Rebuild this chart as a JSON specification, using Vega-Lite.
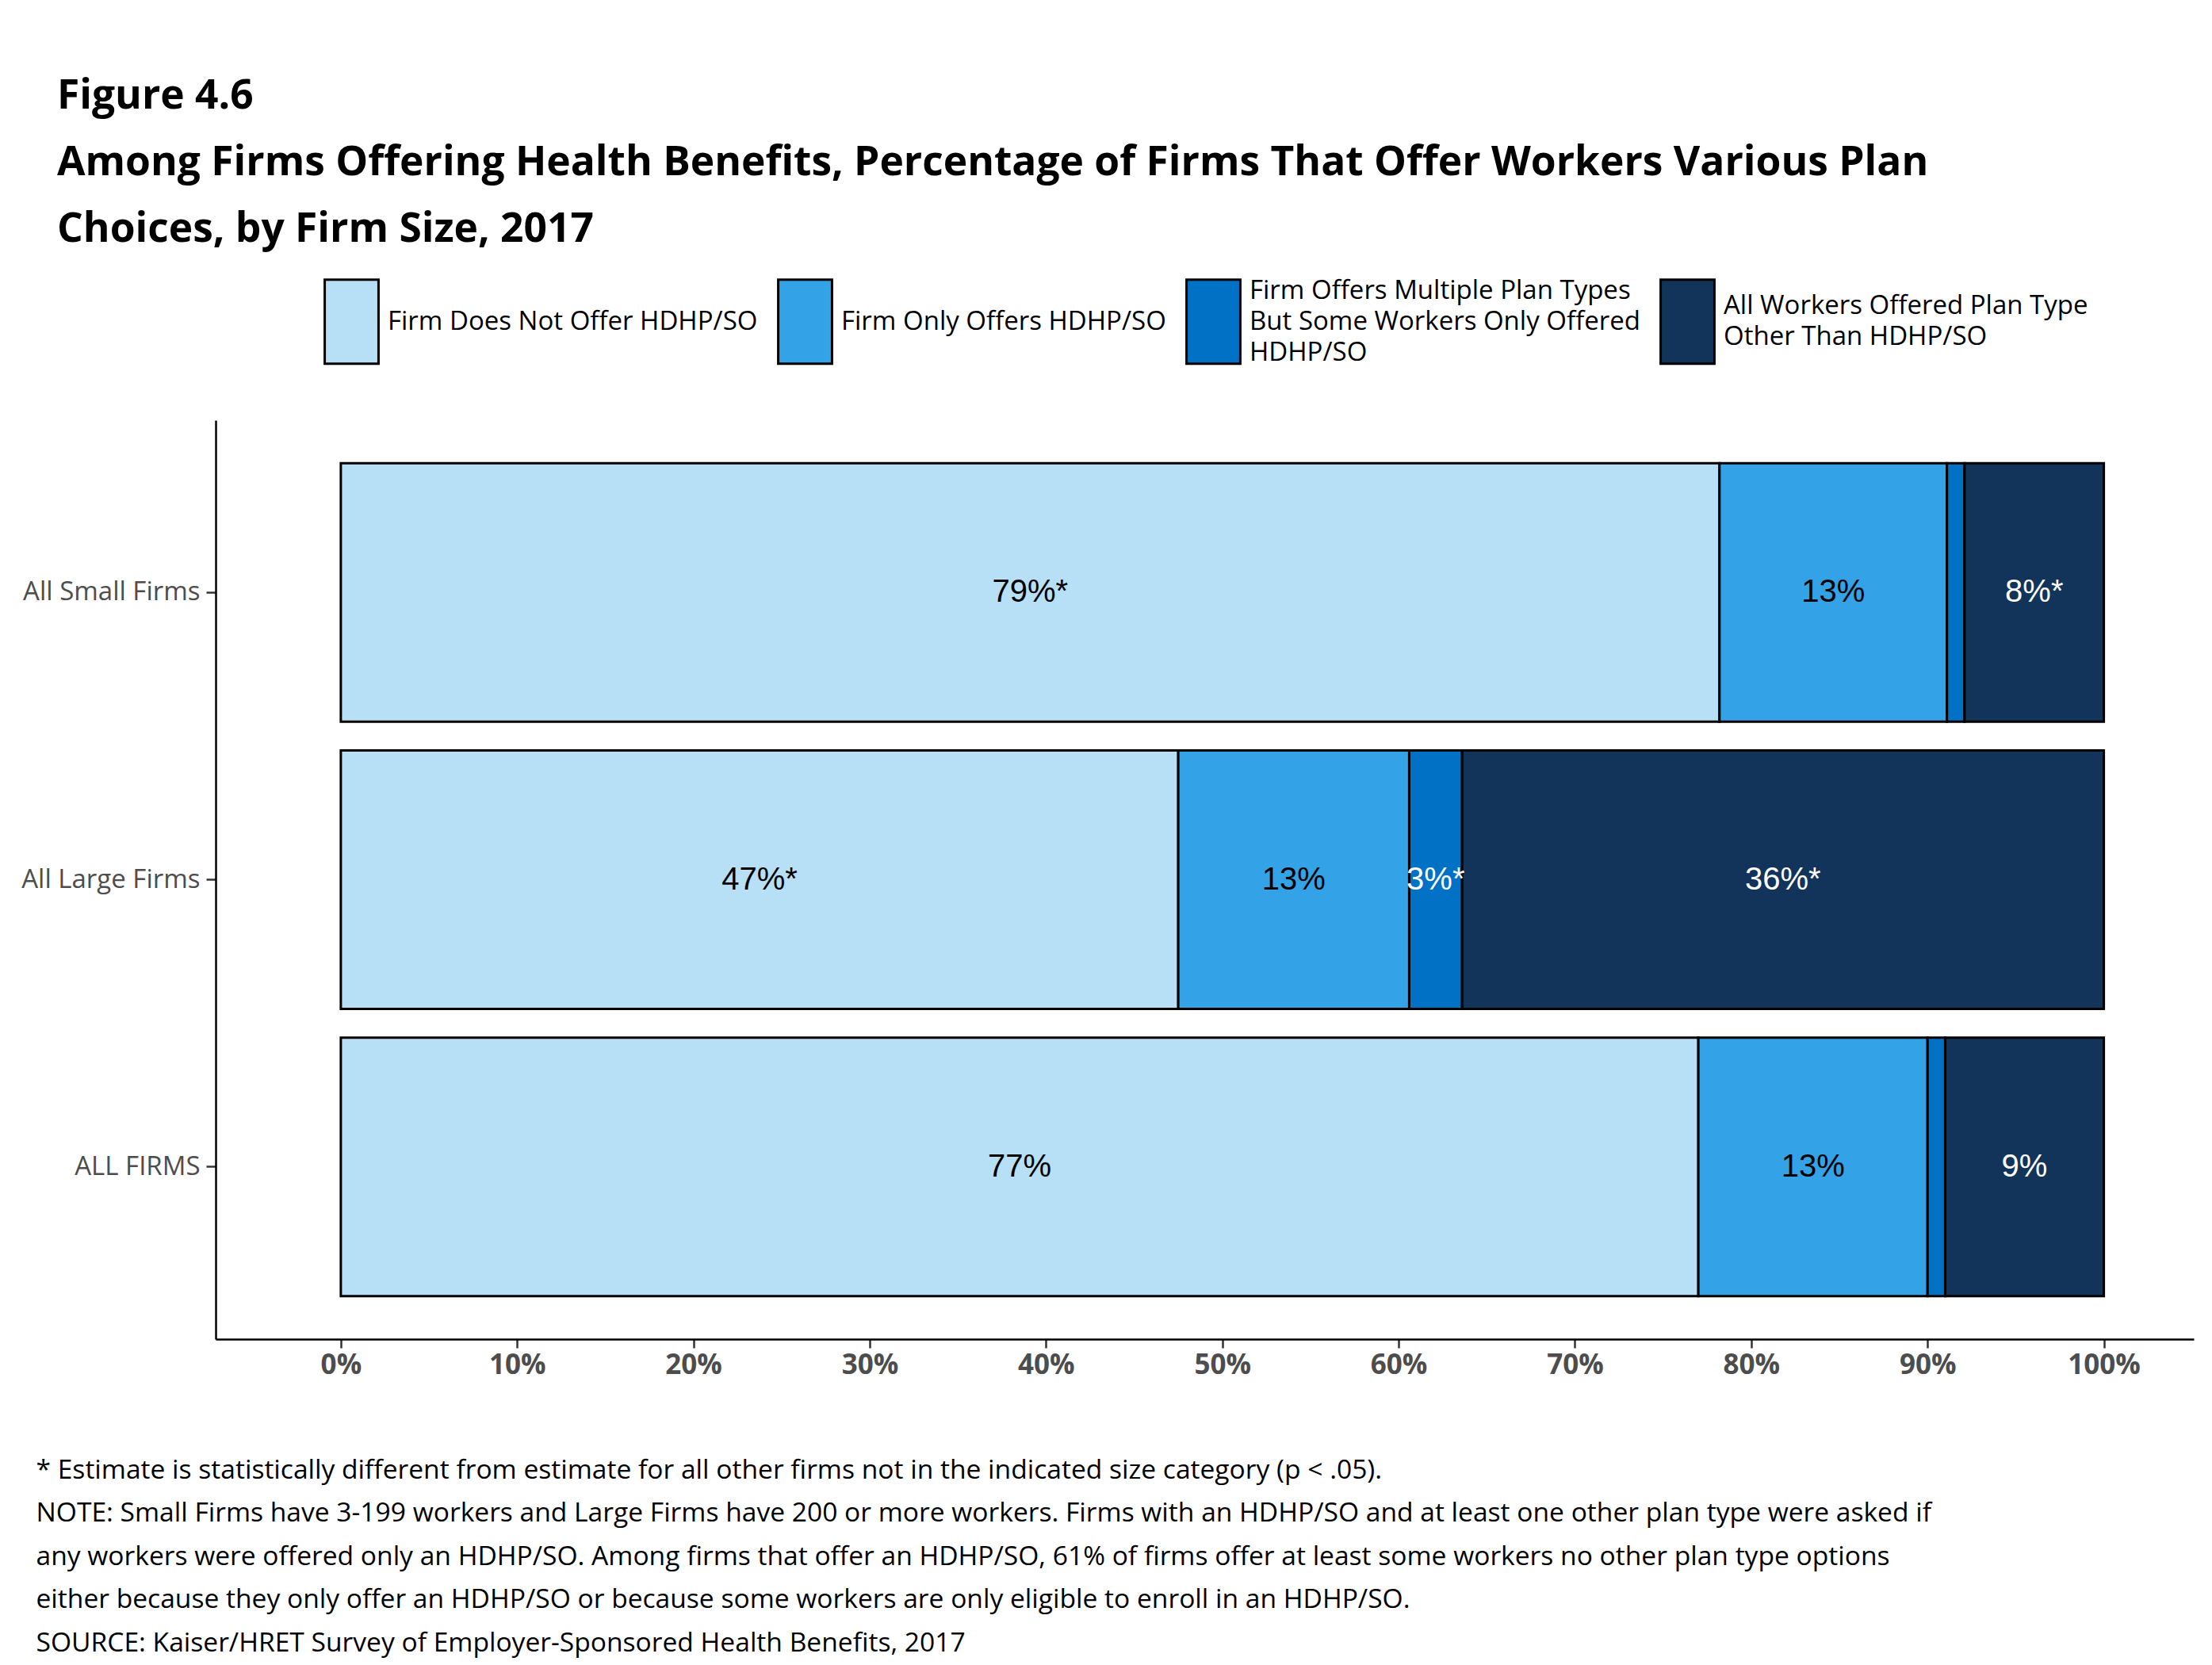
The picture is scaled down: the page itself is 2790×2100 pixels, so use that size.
{
  "$schema": "https://vega.github.io/schema/vega-lite/v6.json",
  "width": 2495,
  "height": 1159,
  "autosize": {"type": "none"},
  "padding": {"left": 272, "top": 530, "right": 23, "bottom": 411},
  "background": "white",
  "config": {"view": {"stroke": null}, "font": "Open Sans"},
  "title": {
    "text": ["Figure 4.6", "Among Firms Offering Health Benefits, Percentage of Firms That Offer Workers Various Plan", "Choices, by Firm Size, 2017"],
    "anchor": "start",
    "frame": "group",
    "orient": "top",
    "dx": -200,
    "dy": 4,
    "offset": 40,
    "font": "Open Sans",
    "fontSize": 51.5,
    "fontWeight": "bold",
    "color": "black",
    "lineHeight": 84
  },
  "data": {
    "values": [
      {"size": "All Small Firms", "plan": "Firm Does Not Offer HDHP/SO", "ord": 1, "pct": 78.2, "label": "79%*"},
      {"size": "All Small Firms", "plan": "Firm Only Offers HDHP/SO", "ord": 2, "pct": 12.9, "label": "13%"},
      {"size": "All Small Firms", "plan": "Firm Offers Multiple Plan Types But Some Workers Only Offered HDHP/SO", "ord": 3, "pct": 1.0, "label": ""},
      {"size": "All Small Firms", "plan": "All Workers Offered Plan Type Other Than HDHP/SO", "ord": 4, "pct": 7.9, "label": "8%*"},
      {"size": "All Large Firms", "plan": "Firm Does Not Offer HDHP/SO", "ord": 1, "pct": 47.5, "label": "47%*"},
      {"size": "All Large Firms", "plan": "Firm Only Offers HDHP/SO", "ord": 2, "pct": 13.1, "label": "13%"},
      {"size": "All Large Firms", "plan": "Firm Offers Multiple Plan Types But Some Workers Only Offered HDHP/SO", "ord": 3, "pct": 3.0, "label": "3%*"},
      {"size": "All Large Firms", "plan": "All Workers Offered Plan Type Other Than HDHP/SO", "ord": 4, "pct": 36.4, "label": "36%*"},
      {"size": "ALL FIRMS", "plan": "Firm Does Not Offer HDHP/SO", "ord": 1, "pct": 77.0, "label": "77%"},
      {"size": "ALL FIRMS", "plan": "Firm Only Offers HDHP/SO", "ord": 2, "pct": 13.0, "label": "13%"},
      {"size": "ALL FIRMS", "plan": "Firm Offers Multiple Plan Types But Some Workers Only Offered HDHP/SO", "ord": 3, "pct": 1.0, "label": ""},
      {"size": "ALL FIRMS", "plan": "All Workers Offered Plan Type Other Than HDHP/SO", "ord": 4, "pct": 9.0, "label": "9%"}
    ]
  },
  "transform": [
    {"stack": "pct", "groupby": ["size"], "sort": [{"field": "ord", "order": "ascending"}], "as": ["x0", "x1"]},
    {"calculate": "(datum.x0 + datum.x1) / 2", "as": "xm"}
  ],
  "encoding": {
    "y": {
      "field": "size",
      "type": "nominal",
      "sort": ["All Small Firms", "All Large Firms", "ALL FIRMS"],
      "scale": {"paddingInner": 0.1, "paddingOuter": 0.15},
      "axis": {
        "title": null,
        "domain": true,
        "domainColor": "black",
        "domainWidth": 2.5,
        "ticks": true,
        "tickColor": "#333333",
        "tickWidth": 2.5,
        "tickSize": 12,
        "labelFont": "Open Sans",
        "labelFontSize": 33,
        "labelColor": "#4D4D4D",
        "labelPadding": 8,
        "labelLimit": 0,
        "grid": false
      }
    }
  },
  "layer": [
    {
      "mark": {"type": "bar", "stroke": "black", "strokeWidth": 3},
      "encoding": {
        "x": {
          "field": "x0",
          "type": "quantitative",
          "scale": {"domain": [-7.1, 105.1], "nice": false, "zero": false},
          "axis": {
            "values": [0, 10, 20, 30, 40, 50, 60, 70, 80, 90, 100],
            "labelExpr": "datum.value + '%'",
            "domain": true,
            "domainColor": "black",
            "domainWidth": 2.5,
            "ticks": true,
            "tickColor": "#333333",
            "tickWidth": 2.5,
            "tickSize": 11,
            "labelFont": "Open Sans",
            "labelFontSize": 35,
            "labelFontWeight": "bold",
            "labelColor": "#4D4D4D",
            "labelPadding": 4,
            "labelFlush": false,
            "labelOverlap": false,
            "grid": false,
            "title": [
              "* Estimate is statistically different from estimate for all other firms not in the indicated size category (p < .05).",
              "NOTE: Small Firms have 3-199 workers and Large Firms have 200 or more workers. Firms with an HDHP/SO and at least one other plan type were asked if",
              "any workers were offered only an HDHP/SO. Among firms that offer an HDHP/SO, 61% of firms offer at least some workers no other plan type options",
              "either because they only offer an HDHP/SO or because some workers are only eligible to enroll in an HDHP/SO.",
              "SOURCE: Kaiser/HRET Survey of Employer-Sponsored Health Benefits, 2017"
            ],
            "titleFont": "Open Sans",
            "titleFontSize": 33.6,
            "titleFontWeight": "normal",
            "titleColor": "black",
            "titleAnchor": "start",
            "titleAlign": "left",
            "titleBaseline": "alphabetic",
            "titleX": -227,
            "titleY": 175,
            "titleLineHeight": 54.6
          }
        },
        "x2": {"field": "x1"},
        "color": {
          "field": "plan",
          "type": "nominal",
          "scale": {
            "domain": ["Firm Does Not Offer HDHP/SO", "Firm Only Offers HDHP/SO", "Firm Offers Multiple Plan Types But Some Workers Only Offered HDHP/SO", "All Workers Offered Plan Type Other Than HDHP/SO"],
            "range": ["#B7DFF5", "#33A2E6", "#0071C5", "#12345A"]
          },
          "legend": {
            "orient": "none",
            "legendX": 117,
            "legendY": -179,
            "direction": "horizontal",
            "title": null,
            "padding": 0,
            "symbolType": "M-0.64,-1H0.64V1H-0.64Z",
            "symbolSize": 11236,
            "symbolStrokeColor": "black",
            "symbolStrokeWidth": 3,
            "symbolOpacity": 1,
            "labelFont": "Open Sans",
            "labelFontSize": 33,
            "labelColor": "black",
            "labelLimit": 0,
            "labelOffset": -9,
            "columnPadding": 5,
            "labelExpr": "datum.label == 'Firm Offers Multiple Plan Types But Some Workers Only Offered HDHP/SO' ? ['Firm Offers Multiple Plan Types', 'But Some Workers Only Offered', 'HDHP/SO'] : datum.label == 'All Workers Offered Plan Type Other Than HDHP/SO' ? ['All Workers Offered Plan Type', 'Other Than HDHP/SO'] : datum.label",
            "encoding": {
              "labels": {
                "lineHeight": {"value": 39},
                "dy": {"value": {"expr": "indexof(datum.value, 'Multiple') >= 0 ? -39 : (indexof(datum.value, 'All Workers') >= 0 ? -19.5 : 0)"}}
              }
            }
          }
        }
      }
    },
    {
      "mark": {"type": "text", "font": "Liberation Sans", "fontSize": 40, "baseline": "middle", "align": "center"},
      "encoding": {
        "x": {"field": "xm", "type": "quantitative"},
        "text": {"field": "label"},
        "color": {"condition": {"test": "datum.ord >= 3", "value": "white"}, "value": "black"}
      }
    }
  ]
}
